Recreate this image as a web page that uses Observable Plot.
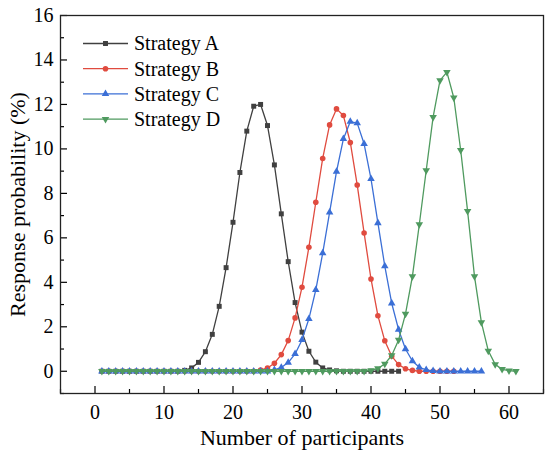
<!DOCTYPE html>
<html>
<head>
<meta charset="utf-8">
<script src="https://cdn.jsdelivr.net/npm/d3@7"></script>
<script src="https://cdn.jsdelivr.net/npm/@observablehq/plot@0.6"></script>
<style>
  html, body { margin: 0; padding: 0; background: white; }
</style>
</head>
<body>
<script>
// ---- Data ----
const seriesNames = ["Strategy A", "Strategy B", "Strategy C", "Strategy D"];
const seriesColors = ["#404040", "#e04b3f", "#3b6fd6", "#4f9a5f"];
const firstParticipant = 1;

const strategyA = [0,0,0,0,0,0,0,0,0,0,0,0,
  0.04,0.15,0.40,0.88,1.66,2.92,4.66,6.70,8.94,10.80,11.92,12.00,11.05,9.28,7.08,4.93,3.09,1.76,0.90,0.41,0.15,0.06,0.02,
  0,0,0,0,0,0,0,0,0];
const strategyB = [0,0,0,0,0,0,0,0,0,0,0,0,0,0,0,0,0,0,0,0,0,0,0,
  0.05,0.15,0.36,0.75,1.38,2.40,3.78,5.58,7.60,9.57,11.08,11.80,11.50,10.29,8.38,6.22,4.15,2.50,1.37,0.68,0.30,0.11,0.04,
  0,0,0,0,0,0];
const strategyC = [0,0,0,0,0,0,0,0,0,0,0,0,0,0,0,0,0,0,0,0,0,0,0,0,0,
  0.06,0.17,0.39,0.78,1.41,2.36,3.66,5.31,7.15,8.98,10.45,11.23,11.16,10.23,8.65,6.67,4.73,3.06,1.87,1.00,0.46,0.18,0.06,0.02,
  0,0,0,0,0,0,0];
const strategyD = [0,0,0,0,0,0,0,0,0,0,0,0,0,0,0,0,0,0,0,0,0,0,0,0,0,0,0,0,0,0,0,0,0,0,0,0,0,0,0,
  0.04,0.13,0.33,0.71,1.41,2.58,4.27,6.60,9.03,11.43,13.08,13.45,12.30,9.94,7.20,4.27,2.20,0.92,0.31,0.09,0.03,0];

const xTicksMajor = [0, 10, 20, 30, 40, 50, 60];
const xTicksMinor = [-5, 5, 15, 25, 35, 45, 55, 65];
const yTicksMajor = [0, 2, 4, 6, 8, 10, 12, 14, 16];
const yTicksMinor = [-1, 1, 3, 5, 7, 9, 11, 13, 15];
const xTitle = "Number of participants";
const yTitle = "Response probability (%)";

// ---- Build table ----
const allSeries = [strategyA, strategyB, strategyC, strategyD];
const rows = [];
allSeries.forEach((vals, s) => {
  vals.forEach((v, i) => rows.push({series: seriesNames[s], x: firstParticipant + i, y: v}));
});

const sqrt3 = Math.sqrt(3);
const triangleDown = {
  draw(context, size) {
    const y = Math.sqrt(size / (sqrt3 * 3));
    context.moveTo(0, y * 2);
    context.lineTo(-sqrt3 * y, -y);
    context.lineTo(sqrt3 * y, -y);
    context.closePath();
  }
};
const symbols = [d3.symbolSquare, d3.symbolCircle, d3.symbolTriangle, triangleDown];

const font = "'Liberation Serif', 'Times New Roman', serif";
const marks = [];

// axes: inward ticks
marks.push(Plot.axisX({ticks: xTicksMajor, tickSize: -7, tickFormat: () => "", label: null, strokeWidth: 1.2}));
marks.push(Plot.axisX({ticks: xTicksMinor, tickSize: -4, tickFormat: () => "", label: null, strokeWidth: 1.2}));
marks.push(Plot.axisX({ticks: xTicksMajor, tickSize: 0, tickPadding: 11, fontSize: 20, label: null}));
marks.push(Plot.axisY({ticks: yTicksMajor, tickSize: -7, tickFormat: () => "", label: null, strokeWidth: 1.2}));
marks.push(Plot.axisY({ticks: yTicksMinor, tickSize: -4, tickFormat: () => "", label: null, strokeWidth: 1.2}));
marks.push(Plot.axisY({ticks: yTicksMajor, tickSize: 0, tickPadding: 7, fontSize: 20, label: null}));
// axis titles
marks.push(Plot.text([xTitle], {text: d => d, frameAnchor: "bottom", dy: 51, fontSize: 22, fill: "black"}));
marks.push(Plot.text([yTitle], {text: d => d, frameAnchor: "left", textAnchor: "middle", lineAnchor: "middle",
  dx: -43, rotate: -90, fontSize: 22, fill: "black"}));

seriesNames.forEach((name, s) => {
  const data = rows.filter(d => d.series === name);
  marks.push(Plot.line(data, {x: "x", y: "y", stroke: seriesColors[s], strokeWidth: 1.3}));
  marks.push(Plot.dot(data, {x: "x", y: "y", fill: seriesColors[s], stroke: "none", symbol: () => symbols[s], r: 2.8}));
});
marks.push(Plot.frame({stroke: "#222", strokeWidth: 1.3}));

const chart = Plot.plot({
  width: 550,
  height: 456,
  marginLeft: 60,
  marginRight: 7,
  marginTop: 15,
  marginBottom: 63,
  style: {fontFamily: font, fontSize: "20px", color: "black", background: "white"},
  x: {domain: [-5, 65]},
  y: {domain: [-1, 16]},
  symbol: {type: "identity"},
  marks
});
document.body.append(chart);

// ---- Legend inside the plot ----
const svg = d3.select(chart);
const lg = svg.append("g").attr("font-family", font).attr("font-size", 20).attr("text-anchor", "start");
seriesNames.forEach((name, s) => {
  const yy = 43.5 + s * 25.2;
  lg.append("line").attr("x1", 83).attr("x2", 128).attr("y1", yy).attr("y2", yy)
    .attr("stroke", seriesColors[s]).attr("stroke-width", 1.3);
  lg.append("path").attr("transform", `translate(105.5,${yy})`)
    .attr("d", d3.symbol(symbols[s], Math.PI * 2.8 * 2.8)()).attr("fill", seriesColors[s]);
  lg.append("text").attr("x", 134).attr("y", yy).attr("dy", "0.34em").attr("fill", "black").text(name);
});
</script>
</body>
</html>
